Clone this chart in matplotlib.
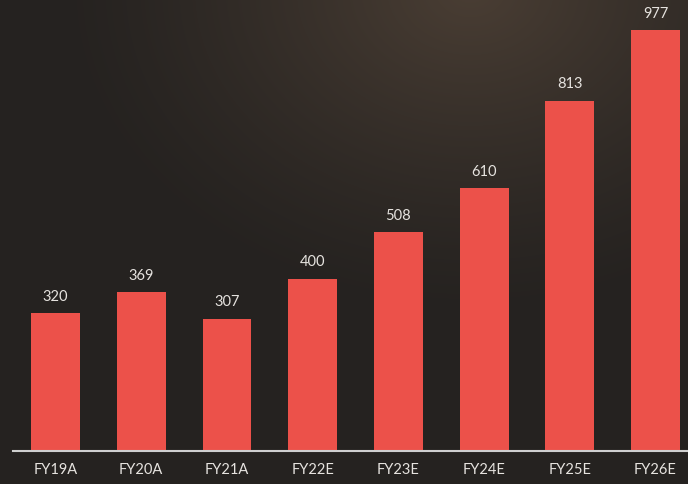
import numpy as np
import matplotlib.pyplot as plt

years = ["FY19A", "FY20A", "FY21A", "FY22E", "FY23E", "FY24E", "FY25E", "FY26E"]
values = [320, 369, 307, 400, 508, 610, 813, 977]

bar_color = "#ec514a"
text_color = "#e6e3df"

fig = plt.figure(figsize=(6.88, 4.85), dpi=100)

# dark background with a soft warm glow near the top
bg = fig.add_axes([0, 0, 1, 1])
h, w = 485, 688
yy, xx = np.mgrid[0:h, 0:w]
d = np.sqrt(((xx - 470) / 420.0) ** 2 + ((yy + 10) / 330.0) ** 2)
glow = np.clip(1 - d, 0, 1) ** 1.3
base = np.array([37, 34, 32]) / 255.0
warm = np.array([74, 62, 52]) / 255.0
img = base + glow[..., None] * (warm - base)
bg.imshow(np.clip(img, 0, 1), extent=[0, 1, 0, 1], aspect="auto", origin="upper")
bg.axis("off")

ax = fig.add_axes([13 / 688, 33 / 485, 675 / 688, 452 / 485])
ax.patch.set_alpha(0)
x = np.arange(len(years))
ax.bar(x, values, width=0.57, color=bar_color, zorder=2)
for xi, v in zip(x, values):
    ax.text(xi, v + 24, str(v), ha="center", va="bottom", color=text_color,
            fontsize=10.5, family="Lato")

ax.set_xlim(-0.496, 7.379)
ax.set_ylim(0, 1049)
ax.set_xticks(x)
ax.set_xticklabels(years, color=text_color, fontsize=10.5, family="Lato")
ax.tick_params(axis="x", length=0, pad=8)
ax.set_yticks([])
for s in ["top", "right", "left"]:
    ax.spines[s].set_visible(False)
ax.spines["bottom"].set_color("#cfcfcf")
ax.spines["bottom"].set_linewidth(1.5)

fig.savefig("out.png", dpi=100)
